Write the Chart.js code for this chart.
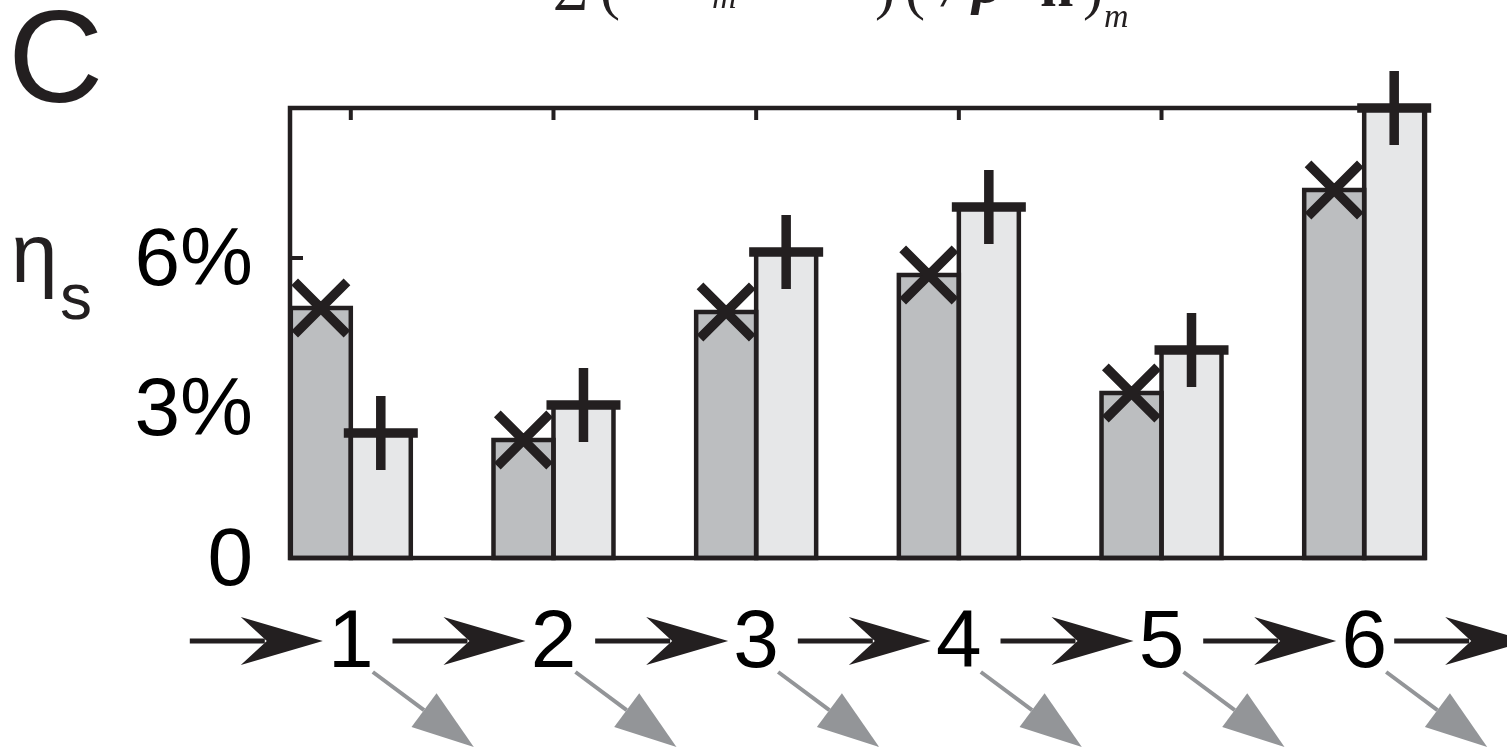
<!DOCTYPE html>
<html>
<head>
<meta charset="utf-8">
<title>η_s by stage</title>
<script src="https://cdn.jsdelivr.net/npm/chart.js@4.4.0/dist/chart.umd.min.js"></script>
<style>
  html, body { margin: 0; padding: 0; background: #fff; overflow: hidden; }
  canvas { display: block; }
</style>
</head>
<body>
<canvas id="chart" width="1507" height="748"></canvas>
<script>
// Stage labels along the horizontal axis
const categories = ['1', '2', '3', '4', '5', '6'];
// η_s per stage (percent): dark bars marked ×, light bars marked +
const darkValues = [5.0, 2.36, 4.92, 5.66, 3.3, 7.36];
const lightValues = [2.5, 3.06, 6.12, 7.02, 4.16, 9.0];
// Vertical axis ticks
const yTickValues = [0, 3, 6];
const yTickLabels = ['0', '3%', '6%'];

const INK = '#231f20';
const DARK_FILL = '#bcbec0';
const LIGHT_FILL = '#e6e7e8';
const ARROW_GREY = '#939598';
const SANS = '"Liberation Sans", Arial, Helvetica, sans-serif';
const SERIF = '"Liberation Serif", "Times New Roman", serif';

function blackArrow(ctx, tipX, yy) {
  ctx.lineWidth = 5;
  ctx.beginPath();
  ctx.moveTo(tipX - 133, yy);
  ctx.lineTo(tipX - 58, yy);
  ctx.stroke();
  ctx.beginPath();
  ctx.moveTo(tipX, yy);
  ctx.lineTo(tipX - 82, yy - 24);
  ctx.lineTo(tipX - 56, yy);
  ctx.lineTo(tipX - 82, yy + 24);
  ctx.closePath();
  ctx.fill();
}

function greyArrow(ctx, sx, sy) {
  const dx = 101, dy = 75;
  const len = Math.hypot(dx, dy);
  const ux = dx / len, uy = dy / len;
  const nx = -uy, ny = ux;
  const tx = sx + dx, ty = sy + dy;
  const bx = tx - 62 * ux, by = ty - 62 * uy;
  ctx.lineWidth = 4;
  ctx.beginPath();
  ctx.moveTo(sx, sy);
  ctx.lineTo(bx, by);
  ctx.stroke();
  ctx.beginPath();
  ctx.moveTo(tx, ty);
  ctx.lineTo(bx + 21 * nx, by + 21 * ny);
  ctx.lineTo(bx - 21 * nx, by - 21 * ny);
  ctx.closePath();
  ctx.fill();
}

const framePlugin = {
  id: 'frame',
  beforeDatasetsDraw(chart) {
    // inward tick marks on the box edges
    const { ctx, chartArea: a, scales: { x, y } } = chart;
    ctx.save();
    ctx.strokeStyle = INK;
    ctx.lineWidth = 4;
    ctx.lineCap = 'butt';
    yTickValues.forEach(v => {
      const py = y.getPixelForValue(v);
      ctx.beginPath();
      ctx.moveTo(a.left, py); ctx.lineTo(a.left + 13, py);
      ctx.moveTo(a.right, py); ctx.lineTo(a.right - 13, py);
      ctx.stroke();
    });
    categories.forEach((c, i) => {
      const px = x.getPixelForValue(i + 1);
      ctx.beginPath();
      ctx.moveTo(px, a.top); ctx.lineTo(px, a.top + 12);
      ctx.moveTo(px, a.bottom); ctx.lineTo(px, a.bottom - 12);
      ctx.stroke();
    });
    ctx.restore();
  },
  afterDatasetsDraw(chart) {
    const { ctx, chartArea: a } = chart;
    ctx.save();
    ctx.strokeStyle = INK;
    ctx.fillStyle = INK;
    ctx.lineCap = 'butt';
    ctx.lineJoin = 'miter';
    // bar outlines
    ctx.lineWidth = 4.5;
    chart.data.datasets.forEach((ds, di) => {
      chart.getDatasetMeta(di).data.forEach(bar => {
        const p = bar.getProps(['x', 'y', 'base', 'width'], true);
        ctx.strokeRect(p.x - p.width / 2, p.y, p.width, p.base - p.y);
      });
    });
    // plot box
    ctx.strokeRect(a.left, a.top, a.right - a.left, a.bottom - a.top);
    // markers at the top of each bar
    ctx.lineWidth = 9.5;
    chart.data.datasets.forEach((ds, di) => {
      chart.getDatasetMeta(di).data.forEach(bar => {
        const p = bar.getProps(['x', 'y'], true);
        Chart.helpers.drawPoint(ctx, {
          pointStyle: ds.marker, radius: 37, rotation: 0, borderWidth: 9.5
        }, p.x, p.y);
      });
    });
    ctx.restore();
  },
  afterDraw(chart) {
    const { ctx, scales: { x } } = chart;
    ctx.save();
    ctx.fillStyle = INK;
    ctx.strokeStyle = INK;
    ctx.textBaseline = 'alphabetic';
    ctx.textAlign = 'left';

    // panel letter
    ctx.font = `132px ${SANS}`;
    ctx.fillText('C', 8, 102);

    // axis quantity η_s
    ctx.font = `84px ${SANS}`;
    ctx.fillText('η', 11, 282);
    ctx.font = `64px ${SANS}`;
    ctx.fillText('s', 60, 319);

    // expression running off the top edge
    ctx.font = `60px ${SERIF}`;
    ctx.fillText('Σ', 553, 10);
    ctx.fillText('(', 600, 8);
    ctx.fillText(')', 875, 8);
    ctx.fillText('(', 905, 8);
    ctx.font = `italic 60px ${SERIF}`;
    ctx.fillText('ε', 645, -6);
    ctx.fillText('/', 943, 6);
    ctx.font = `italic 34px ${SERIF}`;
    ctx.fillText('m', 712, 8);
    ctx.fillText('m', 1104, 27);
    ctx.font = `bold italic 60px ${SERIF}`;
    ctx.fillText('ρ', 972, 2);
    ctx.font = `60px ${SERIF}`;
    ctx.fillText('+', 1012, -6);
    ctx.font = `bold 60px ${SERIF}`;
    ctx.fillText('n', 1040, 6);
    ctx.font = `60px ${SERIF}`;
    ctx.fillText(')', 1083, 8);

    // stage flow arrows
    const rowY = 641;
    categories.forEach((c, i) => {
      const px = x.getPixelForValue(i + 1);
      blackArrow(ctx, px - 28, rowY);
    });
    const lastPx = x.getPixelForValue(categories.length);
    blackArrow(ctx, lastPx + 163, rowY);

    ctx.fillStyle = ARROW_GREY;
    ctx.strokeStyle = ARROW_GREY;
    categories.forEach((c, i) => {
      const px = x.getPixelForValue(i + 1);
      greyArrow(ctx, px + 22, 672);
    });
    ctx.restore();
  }
};

const tickFont = { family: SANS, size: 82, weight: 'normal' };

new Chart(document.getElementById('chart').getContext('2d'), {
  type: 'bar',
  data: {
    datasets: [
      {
        label: 'dark',
        data: darkValues.map((v, i) => ({ x: i + 1, y: v })),
        backgroundColor: DARK_FILL,
        borderWidth: 0,
        categoryPercentage: 0.592,
        barPercentage: 1,
        marker: 'crossRot'
      },
      {
        label: 'light',
        data: lightValues.map((v, i) => ({ x: i + 1, y: v })),
        backgroundColor: LIGHT_FILL,
        borderWidth: 0,
        categoryPercentage: 0.592,
        barPercentage: 1,
        marker: 'cross'
      }
    ]
  },
  options: {
    responsive: false,
    animation: false,
    events: [],
    devicePixelRatio: 1,
    layout: { padding: { left: 0, top: 108, right: 82, bottom: 0 } },
    plugins: { legend: { display: false }, tooltip: { enabled: false }, title: { display: false } },
    scales: {
      x: {
        type: 'linear',
        offset: false,
        min: 0.7,
        max: 6.3,
        grid: { display: false, offset: false },
        border: { display: false },
        afterBuildTicks: s => { s.ticks = categories.map((c, i) => ({ value: i + 1 })); },
        afterFit: s => { s.height = 190; },
        ticks: {
          autoSkip: false,
          maxRotation: 0,
          minRotation: 0,
          padding: 29,
          color: '#000',
          font: tickFont,
          callback: v => categories[Math.round(v) - 1]
        }
      },
      y: {
        min: 0,
        max: 9,
        grid: { display: false },
        border: { display: false },
        afterBuildTicks: s => { s.ticks = yTickValues.map(v => ({ value: v })); },
        afterFit: s => { s.width = 290; },
        ticks: {
          padding: 29,
          labelOffset: 4,
          color: '#000',
          font: tickFont,
          callback: v => yTickLabels[yTickValues.indexOf(v)]
        }
      }
    }
  },
  plugins: [framePlugin]
});
</script>
</body>
</html>
